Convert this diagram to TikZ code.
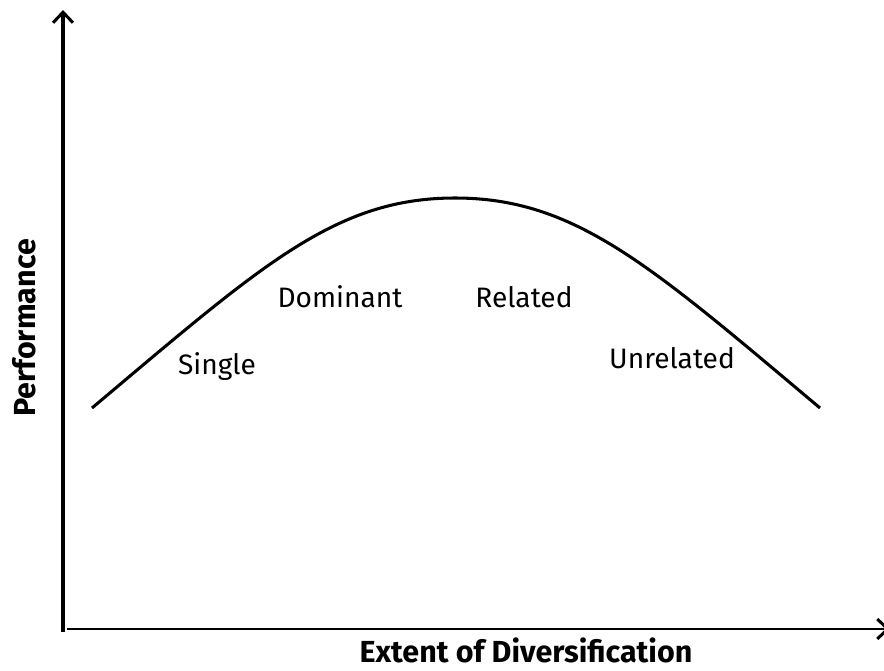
\documentclass[tikz,border=0pt]{standalone}
\usepackage{fontspec}
\setmainfont{Fira Sans}
\usetikzlibrary{arrows.meta}

\begin{document}
\begin{tikzpicture}[x=0.03cm, y=-0.03cm, outer sep = 0pt]
\tikzstyle{axis}=[line width=2.6pt, -{Straight Barb[length=9pt, width=17pt, line width=2.6pt]}]
\tikzstyle{curve}=[line width=2.6pt]
\tikzstyle{lbl}=[font=\fontsize{24}{28}\selectfont, inner sep=0pt]
\tikzstyle{title}=[font=\fontsize{26}{30}\selectfont\bfseries, inner sep=0pt]
    \useasboundingbox (0,0) rectangle (884,671);
    \coordinate (o) at (63,632);
    \coordinate (ytip) at (63,10);
    \coordinate (xo) at (67,629);
    \coordinate (xtip) at (890,629);
    \draw[axis] (o) -- (ytip);
    \draw[axis, line width=2pt] (xo) -- (xtip);
    % performance curve
    \coordinate (start) at (92,408);
    \coordinate (peak) at (455,198);
    \coordinate (end) at (820,408);
    \draw[curve] (start) .. controls (262,265) and (335,198) .. (peak)
        .. controls (575,198) and (650,265) .. (end);
    \node (single) [lbl] at (217,367) {Single};
    \node (dominant) [lbl] at (340,297) {Dominant};
    \node (related) [lbl] at (524,297) {Related};
    \node (unrelated) [lbl] at (672,358) {Unrelated};
    \node (xlabel) [title] at (526,650) {Extent of Diversification};
    \node (ylabel) [title, rotate=90] at (24,328) {Performance};
\end{tikzpicture}
\end{document}
